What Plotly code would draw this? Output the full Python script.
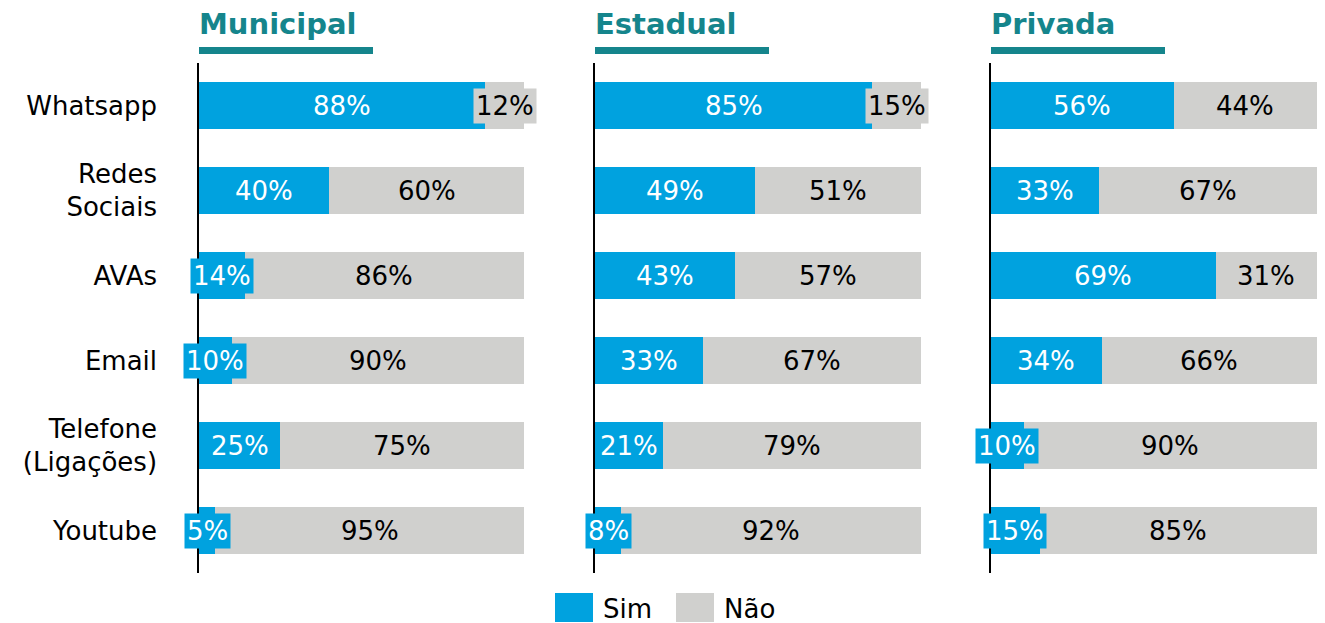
import plotly.graph_objects as go

categories = ["Whatsapp", "Redes<br>Sociais", "AVAs", "Email", "Telefone<br>(Ligações)", "Youtube"]
panels = ["Municipal", "Estadual", "Privada"]

municipal_sim = [88, 40, 14, 10, 25, 5]
municipal_nao = [12, 60, 86, 90, 75, 95]
estadual_sim = [85, 49, 43, 33, 21, 8]
estadual_nao = [15, 51, 57, 67, 79, 92]
privada_sim = [56, 33, 69, 34, 10, 15]
privada_nao = [44, 67, 31, 66, 90, 85]

series_names = ["Sim", "Não"]

BLUE = "#00A2DF"
GRAY = "#D0D0CE"
TEAL = "#15858C"
FONT = "Verdana, DejaVu Sans, sans-serif"

W, H = 1325, 623
OFF = 8  # page body margin


def px(x):
    return (x - OFF) / W


def py(y):
    return 1 - (y - OFF) / H


domains_px = [(199, 524), (595, 921), (991, 1317)]
y_top_px, y_bot_px = 63, 573

data = [(municipal_sim, municipal_nao), (estadual_sim, estadual_nao), (privada_sim, privada_nao)]

fig = go.Figure()
annotations = []
shapes = []

for i, (sim, nao) in enumerate(data):
    ax = "" if i == 0 else str(i + 1)
    xref, yref = "x" + ax, "y" + ax
    fig.add_trace(go.Bar(y=categories, x=sim, orientation="h", marker=dict(color=BLUE, line=dict(width=0)),
                         name=series_names[0], showlegend=False, xaxis=xref, yaxis=yref, hoverinfo="x+y"))
    fig.add_trace(go.Bar(y=categories, x=nao, orientation="h", marker=dict(color=GRAY, line=dict(width=0)),
                         name=series_names[1], showlegend=False, xaxis=xref, yaxis=yref, hoverinfo="x+y"))
    for c, s, n in zip(categories, sim, nao):
        annotations.append(dict(x=s / 2, y=c, xref=xref, yref=yref, text=f"{s}%", showarrow=False,
                                font=dict(family=FONT, size=26, color="white"), bgcolor=BLUE, borderpad=2))
        annotations.append(dict(x=s + n / 2, y=c, xref=xref, yref=yref, text=f"{n}%", showarrow=False,
                                font=dict(family=FONT, size=26, color="black"), bgcolor=GRAY, borderpad=2))
    x0, x1 = domains_px[i]
    fig.layout["xaxis" + ax] = dict(domain=[px(x0), px(x1)], range=[0, 100], visible=False,
                                    fixedrange=True, anchor=yref)
    fig.layout["yaxis" + ax] = dict(domain=[py(y_bot_px), py(y_top_px)], anchor=xref,
                                    categoryorder="array", categoryarray=categories,
                                    range=[5.5, -0.5], showline=True, linecolor="black", linewidth=1.5,
                                    showgrid=False, zeroline=False, ticks="",
                                    showticklabels=(i == 0), ticklabelstandoff=35,
                                    tickfont=dict(family=FONT, size=26, color="black"))
    annotations.append(dict(x=px(x0 - 2), y=py(24), xref="paper", yref="paper", text=f"<b>{panels[i]}</b>",
                            showarrow=False, xanchor="left", yanchor="middle",
                            font=dict(family=FONT, size=29, color=TEAL)))
    shapes.append(dict(type="rect", xref="paper", yref="paper", x0=px(x0), x1=px(x0 + 174),
                       y0=py(54), y1=py(47), fillcolor=TEAL, line=dict(width=0)))

# manual legend
legend_items = [(series_names[0], BLUE, 555), (series_names[1], GRAY, 676)]
for name, col, lx in legend_items:
    shapes.append(dict(type="rect", xref="paper", yref="paper", x0=px(lx), x1=px(lx + 38),
                       y0=py(622), y1=py(593), fillcolor=col, line=dict(width=0)))
    annotations.append(dict(x=px(lx + 46), y=py(609), xref="paper", yref="paper", text=name,
                            showarrow=False, xanchor="left", yanchor="middle",
                            font=dict(family=FONT, size=26, color="black")))

fig.update_layout(barmode="stack", bargap=0.447, width=W, height=H,
                  margin=dict(l=0, r=0, t=0, b=0), plot_bgcolor="white", paper_bgcolor="white",
                  annotations=annotations, shapes=shapes, showlegend=False,
                  font=dict(family=FONT))

fig.write_html("out.html")
